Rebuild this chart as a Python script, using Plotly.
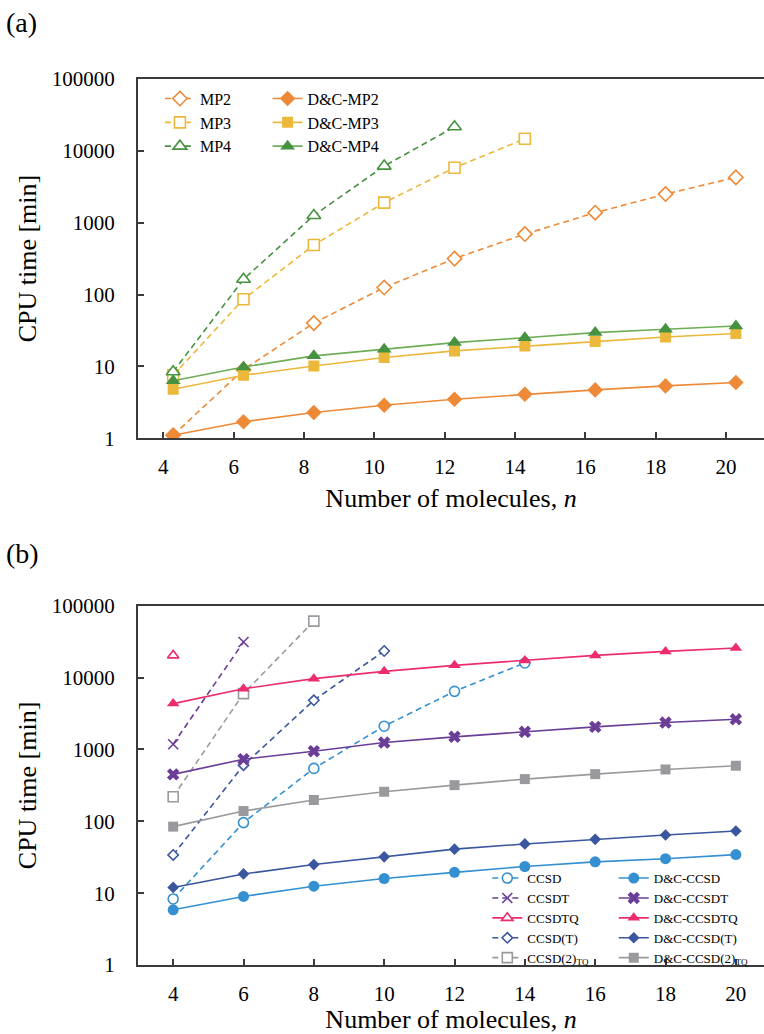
import plotly.graph_objects as go

# ---- data -------------------------------------------------------------
n_all = [4, 6, 8, 10, 12, 14, 16, 18, 20]
tick_vals = [4, 6, 8, 10, 12, 14, 16, 18, 20]
y_ticks = [1, 10, 100, 1000, 10000, 100000]

# (a) MP series, CPU time [min]
mp2_n = [4, 6, 8, 10, 12, 14, 16, 18, 20]
mp2 = [1.1, 9.0, 40, 125, 316, 694, 1377, 2500, 4270]
mp3_n = [4, 6, 8, 10, 12, 14]
mp3 = [7.5, 86, 488, 1900, 5820, 14700]
mp4_n = [4, 6, 8, 10, 12]
mp4 = [8.4, 163, 1260, 6130, 21600]
dc_mp2 = [1.1, 1.69, 2.28, 2.88, 3.49, 4.09, 4.7, 5.34, 5.95]
dc_mp3 = [4.8, 7.5, 10.1, 13.3, 16.4, 19.2, 22.1, 25.6, 28.6]
dc_mp4 = [6.3, 9.8, 14.0, 17.3, 21.4, 25.0, 29.5, 32.8, 36.5]

# (b) coupled-cluster series, CPU time [min]
ccsd_n = [4, 6, 8, 10, 12, 14]
ccsd = [8.3, 96, 545, 2110, 6450, 16000]
ccsdt_n = [4, 6]
ccsdt = [1185, 31300]
ccsdtq_n = [4]
ccsdtq = [20400]
ccsd_t_n = [4, 6, 8, 10]
ccsd_t = [34, 605, 4840, 23500]
ccsd2tq_n = [4, 6, 8]
ccsd2tq = [220, 5990, 61300]
dc_ccsd = [5.87, 9.0, 12.5, 16.0, 19.5, 23.5, 27.3, 30.2, 34.4]
dc_ccsdt = [450, 733, 947, 1250, 1500, 1762, 2066, 2371, 2636]
dc_ccsdtq = [4350, 7000, 9690, 12240, 14830, 17380, 20400, 23200, 25850]
dc_ccsd_t = [12.0, 18.5, 25.0, 32.0, 41.0, 48.4, 56.2, 64.5, 73.3]
dc_ccsd2tq = [84.4, 139, 198, 258, 319, 387, 454, 527, 594]

# ---- styling ----------------------------------------------------------
FONT = "Liberation Serif, Times New Roman, serif"
AXIS_COLOR = "#3a3a3a"
ORANGE = "#EE8A37"
GOLD = "#ECB83B"
GREEN = "#469240"
GREEN_LINE = "#6DAE56"
BLUE = "#3490D1"
PURPLE = "#6A3D96"
PINK = "#EC2C6C"
NAVY = "#3A569F"
GRAY = "#9A9A9E"
DASH = "6px,4px"

# panel (a) tick marks sit slightly left of the plotted points
A_TICK_SHIFT = 0.28

fig = go.Figure()


def add(x, y, name, color, symbol, size, dash, legend, xaxis, yaxis,
        line_color=None, hollow=False, lw=1.6, mlw=1.6):
    if symbol.startswith("x-thin"):
        marker = dict(symbol=symbol, size=size, color=color, line=dict(color=color, width=mlw))
    elif hollow:
        # white-filled marker with a coloured outline
        marker = dict(symbol=symbol, size=size, color="white", line=dict(color=color, width=mlw))
    else:
        marker = dict(symbol=symbol, size=size, color=color, line=dict(width=0))
    fig.add_trace(go.Scatter(
        x=x, y=y, name=name, mode="lines+markers",
        line=dict(color=line_color or color, width=lw, dash=dash),
        marker=marker, legend=legend, xaxis=xaxis, yaxis=yaxis,
        showlegend=True,
    ))


# panel (a)
add(mp2_n, mp2, "MP2", ORANGE, "diamond", 11, DASH, "legend", "x", "y", hollow=True)
add(mp3_n, mp3, "MP3", GOLD, "square", 11, DASH, "legend", "x", "y", hollow=True)
add(mp4_n, mp4, "MP4", GREEN, "triangle-up", 12, DASH, "legend", "x", "y", hollow=True)
add(n_all, dc_mp2, "D&C-MP2", ORANGE, "diamond", 12, "solid", "legend2", "x", "y")
add(n_all, dc_mp3, "D&C-MP3", GOLD, "square", 11, "solid", "legend2", "x", "y")
add(n_all, dc_mp4, "D&C-MP4", GREEN, "triangle-up", 13, "solid", "legend2", "x", "y",
    line_color=GREEN_LINE)

# panel (b)
add(ccsd_n, ccsd, "CCSD", BLUE, "circle", 10, DASH, "legend3", "x2", "y2", hollow=True)
add(ccsdt_n, ccsdt, "CCSDT", PURPLE, "x-thin", 10, DASH, "legend3", "x2", "y2", mlw=1.6)
add(ccsdtq_n, ccsdtq, "CCSDTQ", PINK, "triangle-up", 10, "solid", "legend3", "x2", "y2",
    hollow=True)
add(ccsd_t_n, ccsd_t, "CCSD(T)", NAVY, "diamond", 8, DASH, "legend3", "x2", "y2",
    hollow=True)
add(ccsd2tq_n, ccsd2tq, "CCSD(2)<sub>TQ</sub>", GRAY, "square", 10, DASH, "legend3",
    "x2", "y2", hollow=True)
add(n_all, dc_ccsd, "D&C-CCSD", BLUE, "circle", 11, "solid", "legend4", "x2", "y2")
add(n_all, dc_ccsdt, "D&C-CCSDT", PURPLE, "x", 11, "solid", "legend4", "x2", "y2")
add(n_all, dc_ccsdtq, "D&C-CCSDTQ", PINK, "triangle-up", 11, "solid", "legend4", "x2", "y2")
add(n_all, dc_ccsd_t, "D&C-CCSD(T)", NAVY, "diamond", 9, "solid", "legend4", "x2", "y2")
add(n_all, dc_ccsd2tq, "D&C-CCSD(2)<sub>TQ</sub>", GRAY, "square", 10, "solid", "legend4",
    "x2", "y2")

W, H = 764, 1034
L, R, T, B = 138, 0, 79, 67
plot_h = H - T - B
dom_a = [(967 - 439) / plot_h, 1.0]
dom_b = [0.0, (967 - 607) / plot_h]

tickfont = dict(family=FONT, size=21, color="black")
titlefont = dict(family=FONT, size=26, color="black")

xcommon = dict(range=[3.0, 20.8], showline=True, linecolor=AXIS_COLOR, linewidth=2.2,
               mirror=True, ticks="inside", ticklen=6, tickwidth=1.6, tickcolor=AXIS_COLOR,
               showgrid=False, zeroline=False, tickfont=tickfont, ticklabelstandoff=9)
ycommon = dict(type="log", range=[0, 5], showline=True, linecolor=AXIS_COLOR, linewidth=2.2,
               ticks="inside", ticklen=6, tickwidth=1.6, tickcolor=AXIS_COLOR,
               showgrid=False, zeroline=False, tickfont=tickfont,
               tickvals=y_ticks, ticktext=[str(v) for v in y_ticks],
               title=dict(text="CPU time [min]", font=titlefont, standoff=8),
               ticklabelstandoff=17)

xtitle = dict(text="Number of molecules, <i>n</i>", font=titlefont, standoff=10)

leg_a = dict(yanchor="top", xanchor="left", bgcolor="rgba(0,0,0,0)", tracegroupgap=0,
             font=dict(family=FONT, size=16, color="black"))
leg_b = dict(yanchor="top", xanchor="left", bgcolor="rgba(0,0,0,0)", tracegroupgap=0,
             font=dict(family=FONT, size=13, color="black"))

fig.update_layout(
    width=W, height=H,
    margin=dict(l=L, r=R, t=T, b=B),
    paper_bgcolor="white", plot_bgcolor="white",
    font=dict(family=FONT, color="black"),
    xaxis=dict(xcommon, domain=[0, 1], anchor="y",
               tickvals=[v - A_TICK_SHIFT for v in tick_vals],
               ticktext=[str(v) for v in tick_vals], title=xtitle),
    yaxis=dict(ycommon, domain=dom_a, anchor="x"),
    xaxis2=dict(xcommon, domain=[0, 1], anchor="y2",
                tickvals=tick_vals, ticktext=[str(v) for v in tick_vals], title=xtitle),
    yaxis2=dict(ycommon, domain=dom_b, anchor="x2"),
    legend=dict(leg_a, x=0.035, y=0.997),
    legend2=dict(leg_a, x=0.207, y=0.997),
    legend3=dict(leg_b, x=0.558, y=0.115),
    legend4=dict(leg_b, x=0.76, y=0.115),
    annotations=[
        dict(text="(a)", xref="paper", yref="paper", x=-L / (W - L - R) + 0.006,
             y=1 + (T - 22) / plot_h, xanchor="left", yanchor="middle", showarrow=False,
             font=dict(family=FONT, size=28, color="black")),
        dict(text="(b)", xref="paper", yref="paper", x=-L / (W - L - R) + 0.006,
             y=(967 - 555) / plot_h, xanchor="left", yanchor="middle", showarrow=False,
             font=dict(family=FONT, size=28, color="black")),
    ],
)

fig.write_html("out.html")
